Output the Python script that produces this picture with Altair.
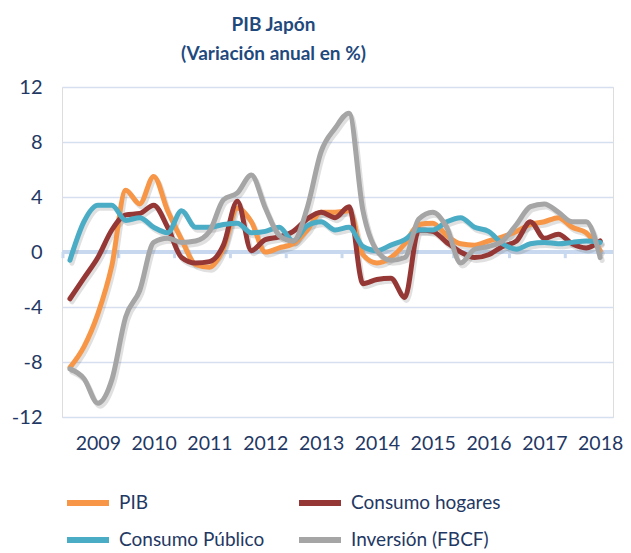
import altair as alt
import pandas as pd

# Quarterly series (index 0 = first quarter shown), % year-on-year change
years = [2009, 2010, 2011, 2012, 2013, 2014, 2015, 2016, 2017, 2018]

pib = [-8.4, -6.9, -4.5, -1.0, 4.5, 3.5, 5.5, 3.0, 0.9, -0.9,
       -1.1, 0.3, 3.2, 2.2, 0.0, 0.3, 0.6, 1.6, 2.9, 2.9,
       3.0, -0.2, -0.8, -0.4, 0.6, 2.0, 2.1, 1.2, 0.6, 0.5,
       0.8, 1.1, 1.5, 2.0, 2.2, 2.5, 1.8, 1.4, 0.1]

hogares = [-3.4, -1.9, -0.4, 1.6, 2.7, 2.8, 3.4, 1.8, -0.4, -0.8,
           -0.7, 0.5, 3.7, 0.1, 0.9, 1.1, 1.5, 2.4, 2.9, 2.5,
           3.3, -2.3, -2.0, -1.9, -3.3, 1.6, 1.5, 0.7, 0.0, -0.4,
           -0.2, 0.4, 0.8, 2.2, 1.0, 1.3, 0.6, 0.3, 0.8]

publico = [-0.6, 2.2, 3.4, 3.4, 2.3, 2.5, 1.8, 1.4, 3.0, 1.8,
           1.8, 2.0, 2.1, 1.4, 1.5, 1.8, 0.8, 1.9, 2.2, 1.6,
           1.8, 0.4, 0.1, 0.5, 0.9, 1.6, 1.6, 2.2, 2.5, 1.8,
           1.5, 0.6, 0.2, 0.6, 0.7, 0.6, 0.7, 0.8, 0.7]

inversion = [-8.5, -9.2, -11.0, -9.3, -4.7, -2.8, 0.7, 1.0, 0.7, 0.8,
             1.5, 3.8, 4.3, 5.6, 3.2, 1.2, 0.8, 3.2, 7.3, 9.0,
             10.1, 3.0, 0.1, -0.6, -0.4, 2.4, 2.9, 1.8, -0.8, 0.2,
             0.4, 0.8, 2.0, 3.3, 3.5, 2.9, 2.2, 2.2, -0.4]

series_names = ["PIB", "Consumo hogares", "Consumo Público", "Inversión (FBCF)"]
series_colors = ["#F79646", "#953735", "#4BACC6", "#A5A5A5"]

rows = []
for name, vals in zip(series_names, [pib, hogares, publico, inversion]):
    for i, v in enumerate(vals):
        rows.append({"t": i, "serie": name, "valor": v})
df = pd.DataFrame(rows)

label_vals = [2 + 4 * k for k in range(len(years))]
tick_df = pd.DataFrame({"t": [4 * k - 0.5 for k in range(len(years))]})

FONT = "Lato"
TXT = "#1F3864"
W, H = 551, 330

x_scale = alt.Scale(domain=[-0.57, 38.92], nice=False, zero=False)
y_scale = alt.Scale(domain=[-12, 12], nice=False)

x_axis = alt.Axis(values=label_vals,
                  labelExpr=f"format({years[0]} + (datum.value - 2) / 4, 'd')",
                  ticks=False, domain=False, grid=False, labelPadding=17,
                  labelFont=FONT, labelFontSize=19.5, labelColor=TXT)
y_axis = alt.Axis(values=[-12, -8, -4, 0, 4, 8, 12], ticks=False, domain=False,
                  labelExpr="datum.value < 0 ? '-' + abs(datum.value) : '' + datum.value",
                  grid=True, gridColor="#D5DFEF", gridWidth=1.5,
                  labelPadding=20, labelFont=FONT, labelFontSize=20, labelColor=TXT)

zero = alt.Chart(pd.DataFrame({"valor": [0]})).mark_rule(
    color="#C8D8EE", strokeWidth=4
).encode(
    y=alt.Y("valor:Q", scale=y_scale, title=None, axis=y_axis),
    x=alt.value(0), x2=alt.value(W),
)

ticks = alt.Chart(tick_df).mark_rule(color="#C8D8EE", strokeWidth=3).encode(
    x=alt.X("t:Q", scale=x_scale, title=None, axis=x_axis),
    y=alt.datum(0), y2=alt.datum(-0.45),
)

shadow = alt.Chart(df).mark_line(
    strokeWidth=5, interpolate="monotone", color="#555555", opacity=0.18,
    xOffset=2, yOffset=3, strokeCap="round", strokeJoin="round",
).encode(
    x=alt.X("t:Q", scale=x_scale, title=None, axis=x_axis),
    y=alt.Y("valor:Q", scale=y_scale, title=None, axis=y_axis),
    detail="serie:N",
)

lines = alt.Chart(df).mark_line(
    strokeWidth=5, interpolate="monotone", strokeCap="round", strokeJoin="round",
).encode(
    x=alt.X("t:Q", scale=x_scale, title=None, axis=x_axis),
    y=alt.Y("valor:Q", scale=y_scale, title=None, axis=y_axis),
    color=alt.Color(
        "serie:N",
        scale=alt.Scale(domain=series_names, range=series_colors),
        sort=series_names,
        legend=alt.Legend(
            title=None, orient="none", legendX=2, legendY=392, columns=2,
            direction="horizontal",
            symbolType="stroke", symbolStrokeWidth=6, symbolSize=1764,
            labelFont=FONT, labelFontSize=19, labelColor=TXT, labelOffset=7,
            columnPadding=22, rowPadding=1, padding=0, labelLimit=300,
        ),
    ),
)

chart = alt.layer(zero, ticks, shadow, lines).properties(
    width=W, height=H,
    title=alt.TitleParams(
        ["PIB Japón", "(Variación anual en %)"],
        font=FONT, fontSize=19, fontWeight="bold", color="#1F497D",
        anchor="middle", dx=-64, offset=13, lineHeight=29,
    ),
    autosize=alt.AutoSizeParams(type="none"),
    padding={"left": 54, "top": 79, "right": 10, "bottom": 136},
).configure_view(strokeWidth=0).configure(background="white")

chart.save("out.html", embed_options={"renderer": "svg", "actions": False})
